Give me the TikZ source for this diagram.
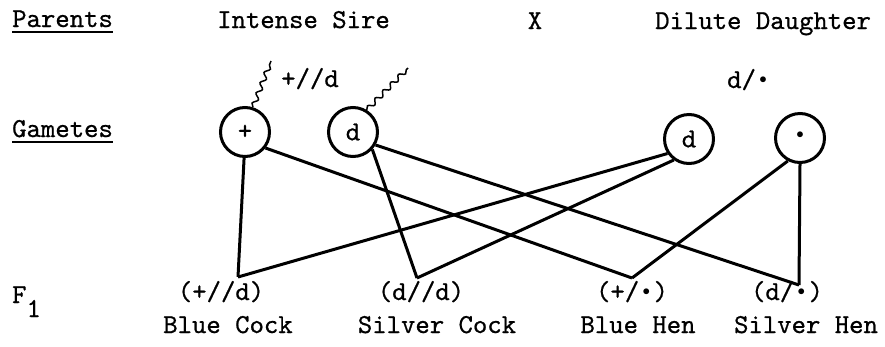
\documentclass[tikz,border=0pt]{standalone}
\usepackage{graphicx}
\usepackage{fontspec}
\newfontfamily\twfont{lmmono10-regular.otf}[FakeBold=0.7]
\usetikzlibrary{decorations.pathmorphing}
\newcommand\tbul{\makebox[0.525em]{\raisebox{0.17em}{\scalebox{0.6}{$\bullet$}}}}
\begin{document}
\begin{tikzpicture}[x=1pt,y=-1pt,
  txt/.style={font=\fontsize{27.4}{30}\selectfont\twfont, inner sep=0pt, anchor=base},
  txtl/.style={txt, anchor=base west},
  gam/.style={circle, draw, line width=3pt, minimum size=49pt, inner sep=0pt,
              font=\fontsize{27.4}{30}\selectfont\twfont},
  link/.style={line width=3pt},
  uline/.style={line width=2pt},
  wave/.style={line width=1.5pt, decorate,
               decoration={snake, amplitude=2.4pt, segment length=11pt}}]
\useasboundingbox (0,0) rectangle (885,346);

% headings
\node[txtl] (par) at (12,27) {Parents};
\node[txtl] (gamt) at (12,137) {Gametes};
\node[txtl] (f1) at (12,303) {F\raisebox{-14pt}{1}};
\draw[uline] ([yshift=-5pt]par.base west) -- ([yshift=-5pt]par.base east);
\draw[uline] ([yshift=-5pt]gamt.base west) -- ([yshift=-5pt]gamt.base east);

% parents
\node[txtl] (sire) at (217,28) {Intense Sire};
\node[txt] (cross) at (535,29) {X};
\node[txtl] (dam) at (655,29) {Dilute Daughter};
\node[txtl] (sireg) at (281,87) {+//d};
\node[txtl] (damg) at (727,88) {d/\tbul};

% gametes
\node[gam] (plus) at (245,132) {+};
\node[gam] (dS) at (353,132) {d};
\node[gam] (dD) at (689,139) {d};
\node[gam] (dot) at (800,138) {\tbul};

% wavy markers
\coordinate (w1) at (271,61);
\coordinate (w2) at (408,68);
\draw[wave] (plus.72) -- (w1);
\draw[wave] (dS.58) -- (w2);

% F1 vertices
\coordinate (BC) at (238,277);
\coordinate (SC) at (417,278);
\coordinate (BH) at (632,278);
\coordinate (SH) at (799,285);

\draw[link] (plus.-92) -- (BC);
\draw[link] (plus.-38) -- (BH);
\draw[link] (dS.-42) -- (SC);
\draw[link] (dS.-30) -- (SH);
\draw[link] (dD.-146) -- (BC);
\draw[link] (dD.-126) -- (SC);
\draw[link] (dot.-118) -- (BH);
\draw[link] (dot.-90) -- (SH);

% F1 labels
\node[txt] (g1) at (221,300) {(+//d)};
\node[txt] (n1) at (228,333) {Blue Cock};
\node[txt] (g2) at (421,300) {(d//d)};
\node[txt] (n2) at (437,333) {Silver Cock};
\node[txt] (g3) at (632,300) {(+/\tbul)};
\node[txt] (n3) at (638,333) {Blue Hen};
\node[txt] (g4) at (787,300) {(d/\tbul)};
\node[txt] (n4) at (806,333) {Silver Hen};
\end{tikzpicture}
\end{document}
